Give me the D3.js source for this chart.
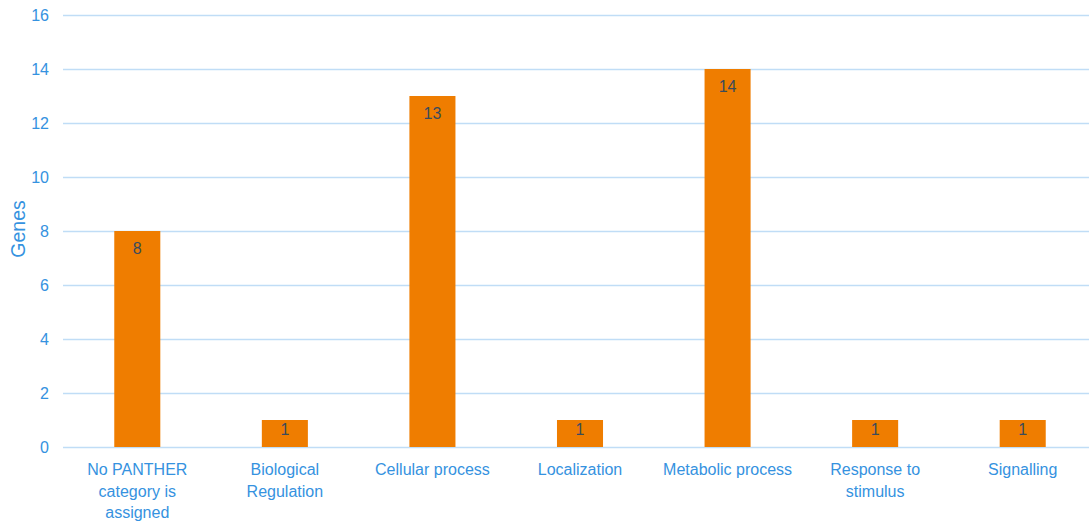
<!DOCTYPE html>
<html>
<head>
<meta charset="utf-8">
<script src="https://cdn.jsdelivr.net/npm/d3@7"></script>
<style>
  body { margin: 0; background: #fff; }
  svg { font-family: "Liberation Sans", Arial, sans-serif; }
</style>
</head>
<body>
<svg width="1089" height="526"></svg>
<script>
var categories = [
  ["No PANTHER", "category is", "assigned"],
  ["Biological", "Regulation"],
  ["Cellular process"],
  ["Localization"],
  ["Metabolic process"],
  ["Response to", "stimulus"],
  ["Signalling"]
];
var genes = [8, 1, 13, 1, 14, 1, 1];
var yTicks = [0, 2, 4, 6, 8, 10, 12, 14, 16];

var svg = d3.select("svg"),
    blue = "#3592e0",
    grid = "#c0ddf6";

var x = d3.scaleBand()
    .domain(d3.range(categories.length))
    .range([63.5, 1096.5])
    .paddingInner(0.688)
    .paddingOuter(0.344);

var y = d3.scaleLinear()
    .domain([0, 16])
    .range([447, 15]);

// gridlines
svg.append("g")
  .selectAll("line")
  .data(yTicks)
  .enter().append("line")
    .attr("x1", 63)
    .attr("x2", 1089)
    .attr("y1", function(d) { return y(d) + 0.5; })
    .attr("y2", function(d) { return y(d) + 0.5; })
    .attr("stroke", grid)
    .attr("stroke-width", 1.5);

// y tick labels
svg.append("g")
  .selectAll("text")
  .data(yTicks)
  .enter().append("text")
    .attr("x", 49)
    .attr("y", function(d) { return y(d) + 6; })
    .attr("text-anchor", "end")
    .attr("fill", blue)
    .style("font-size", "16px")
    .text(function(d) { return d; });

svg.append("text")
    .attr("transform", "translate(24.5,229) rotate(-90)")
    .attr("text-anchor", "middle")
    .attr("fill", blue)
    .style("font-size", "19.5px")
    .text("Genes");

// bars
svg.append("g")
  .selectAll("rect")
  .data(genes)
  .enter().append("rect")
    .attr("x", function(d, i) { return x(i); })
    .attr("y", function(d) { return y(d); })
    .attr("width", x.bandwidth())
    .attr("height", function(d) { return y(0) - y(d); })
    .attr("fill", "#ef7d00");

// value labels
svg.append("g")
  .selectAll("text")
  .data(genes)
  .enter().append("text")
    .attr("x", function(d, i) { return x(i) + x.bandwidth() / 2; })
    .attr("y", function(d) {
      var h = y(0) - y(d);
      return h < 36 ? y(d) + 15 : y(d) + 23;
    })
    .attr("text-anchor", "middle")
    .attr("fill", "#3a4b5c")
    .style("font-size", "16px")
    .text(function(d) { return d; });

// category labels
var cat = svg.append("g")
  .selectAll("text")
  .data(categories)
  .enter().append("text")
    .attr("x", function(d, i) { return x(i) + x.bandwidth() / 2; })
    .attr("y", 475)
    .attr("text-anchor", "middle")
    .attr("fill", blue)
    .style("font-size", "16px");

cat.selectAll("tspan")
  .data(function(d) { return d; })
  .enter().append("tspan")
    .attr("x", function() { return d3.select(this.parentNode).attr("x"); })
    .attr("dy", function(d, i) { return i ? 21.5 : 0; })
    .text(function(d) { return d; });
</script>
</body>
</html>
